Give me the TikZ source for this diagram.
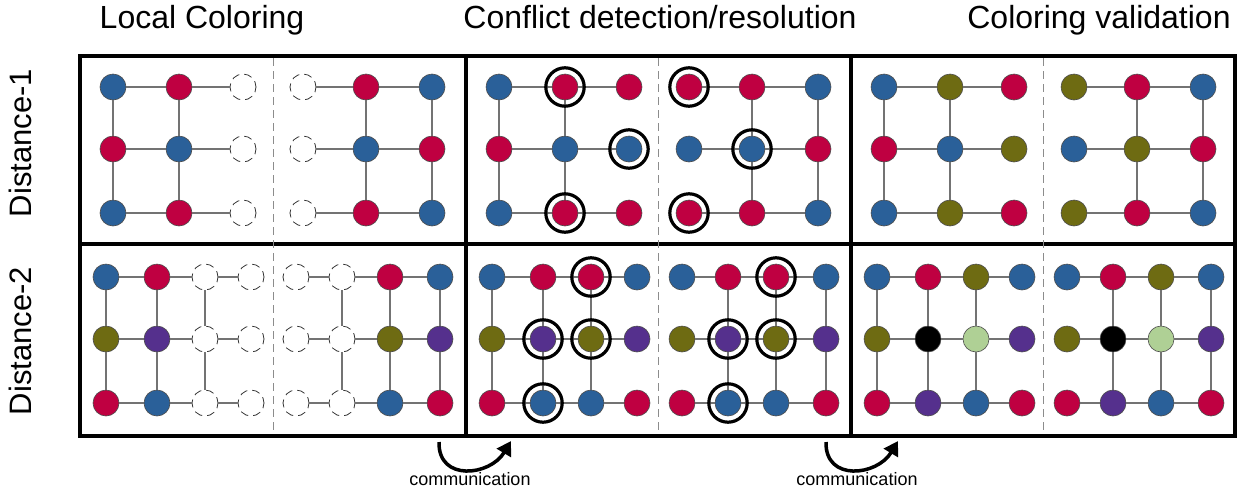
\documentclass[tikz,border=0pt]{standalone}
\usepackage{fontspec}
\setmainfont{Liberation Sans}
\usetikzlibrary{arrows.meta}
\definecolor{cB}{HTML}{2A6099}
\definecolor{cR}{HTML}{BF0041}
\definecolor{cO}{HTML}{6E6B12}
\definecolor{cP}{HTML}{55308D}
\definecolor{cK}{HTML}{000000}
\definecolor{cG}{HTML}{AFD095}
\newcommand\xOne[1]{\ifcase#1\or33\or99\or163\or223\or286\or352\fi}
\newcommand\yOne[1]{\ifcase#1\or87\or149\or213\fi}
\newcommand\xTwo[1]{\ifcase#1\or26\or77\or125\or171\or216\or262\or310\or360\fi}
\newcommand\yTwo[1]{\ifcase#1\or277\or339\or403\fi}
% #1 prefix, #2 panel left, #3 x macro, #4 y macro, #5 list c/r/k
\newcommand\placeFilled[5]{%
  \foreach \c/\r/\k in {#5}{%
    \edef\px{\the\numexpr#2+#3{\c}\relax}%
    \edef\py{#4{\r}}%
    \node[vtx=c\k] (#1-\c-\r) at (\px,\py) {};
  }}
\newcommand\placeEmpty[5]{%
  \foreach \c/\r in {#5}{%
    \edef\px{\the\numexpr#2+#3{\c}\relax}%
    \edef\py{#4{\r}}%
    \node[evtx] (#1-\c-\r) at (\px,\py) {};
  }}
\newcommand\edgesOne[1]{%
  \foreach \r in {1,2,3}{\foreach \a/\b in {1/2,2/3,4/5,5/6}{\draw[edge] (#1-\a-\r) -- (#1-\b-\r);}}
  \foreach \c in {1,2,5,6}{\draw[edge] (#1-\c-1) -- (#1-\c-2) -- (#1-\c-3);}}
\newcommand\edgesTwo[1]{%
  \foreach \r in {1,2,3}{\foreach \a/\b in {1/2,2/3,3/4,5/6,6/7,7/8}{\draw[edge] (#1-\a-\r) -- (#1-\b-\r);}}
  \foreach \c in {1,2,3,6,7,8}{\draw[edge] (#1-\c-1) -- (#1-\c-2) -- (#1-\c-3);}}
\newcommand\rings[2]{%
  \foreach \c/\r in {#2}{\node[ring] (ring-#1-\c-\r) at (#1-\c-\r) {};}}
\tikzset{
  vtx/.style={circle, minimum size=26pt, inner sep=0pt, draw=black!70, line width=0.6pt, fill=#1},
  evtx/.style={circle, minimum size=26pt, inner sep=0pt, draw=black!80, line width=0.8pt, dash pattern=on 8pt off 5pt, dash phase=2pt},
  edge/.style={draw=black!55, line width=1.1pt},
  ring/.style={circle, minimum size=38.4pt, inner sep=0pt, draw=black, line width=3.2pt},
  frame/.style={draw=black, line width=4pt},
  midline/.style={draw=black!45, line width=1pt, dash pattern=on 8pt off 5pt},
  title/.style={font={\fontsize{32}{38}\selectfont}, anchor=base, inner sep=0pt},
  side/.style={font={\fontsize{31}{36}\selectfont}, anchor=base, inner sep=0pt, rotate=90},
  comm/.style={draw=black, line width=3.5pt, -{Triangle[length=14pt,width=16pt]}},
  commlabel/.style={font={\fontsize{18}{22}\selectfont}, anchor=base, inner sep=0pt}
}
\begin{document}
\begin{tikzpicture}[x=1pt, y=-1pt]
\useasboundingbox (0,0) rectangle (1239,488);
% panel frames
\draw[frame] (80,56) rectangle (466,244);
\draw[frame] (466,56) rectangle (851,244);
\draw[frame] (851,56) rectangle (1235,244);
\draw[frame] (80,244) rectangle (466,436);
\draw[frame] (466,244) rectangle (851,436);
\draw[frame] (851,244) rectangle (1235,436);
\draw[midline] (273,58) -- (273,434);
\draw[midline] (658.5,58) -- (658.5,434);
\draw[midline] (1043,58) -- (1043,434);
% titles
\node[title] (t1) at (202,28) {Local Coloring};
\node[title] (t2) at (660,28) {Conflict detection/resolution};
\node[title] (t3) at (1099,28) {Coloring validation};
\node[side] (s1) at (31,143) {Distance-1};
\node[side] (s2) at (31,341) {Distance-2};
% Distance-1 panels
\placeFilled{A1}{80}{\xOne}{\yOne}{1/1/B,1/2/R,1/3/B,2/1/R,2/2/B,2/3/R,5/1/R,5/2/B,5/3/R,6/1/B,6/2/R,6/3/B}
\placeEmpty{A1}{80}{\xOne}{\yOne}{3/1,3/2,3/3,4/1,4/2,4/3}
\placeFilled{B1}{466}{\xOne}{\yOne}{1/1/B,1/2/R,1/3/B,2/1/R,2/2/B,2/3/R,3/1/R,3/2/B,3/3/R,4/1/R,4/2/B,4/3/R,5/1/R,5/2/B,5/3/R,6/1/B,6/2/R,6/3/B}
\placeFilled{C1}{851}{\xOne}{\yOne}{1/1/B,1/2/R,1/3/B,2/1/O,2/2/B,2/3/O,3/1/R,3/2/O,3/3/R,4/1/O,4/2/B,4/3/O,5/1/R,5/2/O,5/3/R,6/1/B,6/2/R,6/3/B}
% Distance-2 panels
\placeFilled{A2}{80}{\xTwo}{\yTwo}{1/1/B,1/2/O,1/3/R,2/1/R,2/2/P,2/3/B,7/1/R,7/2/O,7/3/B,8/1/B,8/2/P,8/3/R}
\placeEmpty{A2}{80}{\xTwo}{\yTwo}{3/1,3/2,3/3,4/1,4/2,4/3,5/1,5/2,5/3,6/1,6/2,6/3}
\placeFilled{B2}{466}{\xTwo}{\yTwo}{1/1/B,1/2/O,1/3/R,2/1/R,2/2/P,2/3/B,3/1/R,3/2/O,3/3/B,4/1/B,4/2/P,4/3/R,5/1/B,5/2/O,5/3/R,6/1/R,6/2/P,6/3/B,7/1/R,7/2/O,7/3/B,8/1/B,8/2/P,8/3/R}
\placeFilled{C2}{851}{\xTwo}{\yTwo}{1/1/B,1/2/O,1/3/R,2/1/R,2/2/K,2/3/P,3/1/O,3/2/G,3/3/B,4/1/B,4/2/P,4/3/R,5/1/B,5/2/O,5/3/R,6/1/R,6/2/K,6/3/P,7/1/O,7/2/G,7/3/B,8/1/B,8/2/P,8/3/R}
% edges
\edgesOne{A1}\edgesOne{B1}\edgesOne{C1}
\edgesTwo{A2}\edgesTwo{B2}\edgesTwo{C2}
% conflict rings
\rings{B1}{2/1,2/3,3/2,4/1,4/3,5/2}
\rings{B2}{3/1,2/2,3/2,2/3,7/1,6/2,7/2,6/3}
% communication
\coordinate (c1s) at (439,442);
\coordinate (c1e) at (511,441);
\draw[comm] (c1s) .. controls (438,482) and (490,476) .. (c1e);
\node[commlabel] (l1) at (470,485) {communication};
\coordinate (c2s) at (826,442);
\coordinate (c2e) at (898,441);
\draw[comm] (c2s) .. controls (825,482) and (877,476) .. (c2e);
\node[commlabel] (l2) at (857,485) {communication};
\end{tikzpicture}
\end{document}
